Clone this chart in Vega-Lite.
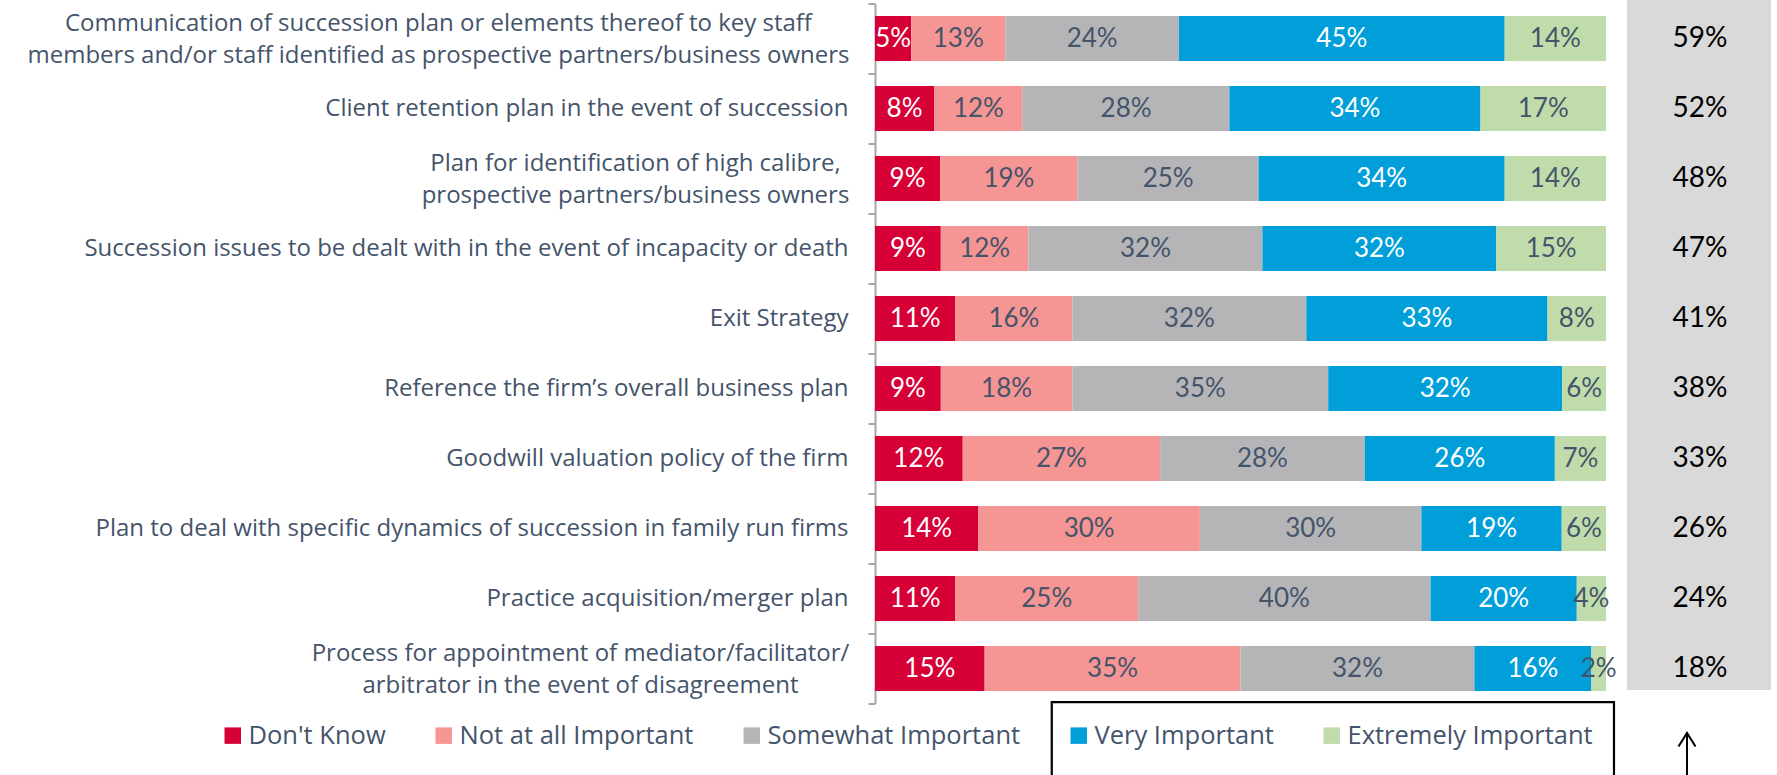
{
  "$schema": "https://vega.github.io/schema/vega-lite/v6.json",
  "autosize": "none",
  "width": 902,
  "height": 700,
  "padding": {"left": 875, "top": 3.5, "right": 0, "bottom": 71.5},
  "background": "white",
  "config": {"view": {"stroke": null}, "font": "Lato", "text": {"font": "Lato"}},
  "datasets": {
    "main": [
      {"item": "Communication of succession plan or elements thereof to key staff\nmembers and/or staff identified as prospective partners/business owners", "level": "Don't Know", "share": 0.05},
      {"item": "Communication of succession plan or elements thereof to key staff\nmembers and/or staff identified as prospective partners/business owners", "level": "Not at all Important", "share": 0.13},
      {"item": "Communication of succession plan or elements thereof to key staff\nmembers and/or staff identified as prospective partners/business owners", "level": "Somewhat Important", "share": 0.24},
      {"item": "Communication of succession plan or elements thereof to key staff\nmembers and/or staff identified as prospective partners/business owners", "level": "Very Important", "share": 0.45},
      {"item": "Communication of succession plan or elements thereof to key staff\nmembers and/or staff identified as prospective partners/business owners", "level": "Extremely Important", "share": 0.14},
      {"item": "Client retention plan in the event of succession", "level": "Don't Know", "share": 0.08},
      {"item": "Client retention plan in the event of succession", "level": "Not at all Important", "share": 0.12},
      {"item": "Client retention plan in the event of succession", "level": "Somewhat Important", "share": 0.28},
      {"item": "Client retention plan in the event of succession", "level": "Very Important", "share": 0.34},
      {"item": "Client retention plan in the event of succession", "level": "Extremely Important", "share": 0.17},
      {"item": "Plan for identification of high calibre,\nprospective partners/business owners", "level": "Don't Know", "share": 0.09},
      {"item": "Plan for identification of high calibre,\nprospective partners/business owners", "level": "Not at all Important", "share": 0.19},
      {"item": "Plan for identification of high calibre,\nprospective partners/business owners", "level": "Somewhat Important", "share": 0.25},
      {"item": "Plan for identification of high calibre,\nprospective partners/business owners", "level": "Very Important", "share": 0.34},
      {"item": "Plan for identification of high calibre,\nprospective partners/business owners", "level": "Extremely Important", "share": 0.14},
      {"item": "Succession issues to be dealt with in the event of incapacity or death", "level": "Don't Know", "share": 0.09},
      {"item": "Succession issues to be dealt with in the event of incapacity or death", "level": "Not at all Important", "share": 0.12},
      {"item": "Succession issues to be dealt with in the event of incapacity or death", "level": "Somewhat Important", "share": 0.32},
      {"item": "Succession issues to be dealt with in the event of incapacity or death", "level": "Very Important", "share": 0.32},
      {"item": "Succession issues to be dealt with in the event of incapacity or death", "level": "Extremely Important", "share": 0.15},
      {"item": "Exit Strategy", "level": "Don't Know", "share": 0.11},
      {"item": "Exit Strategy", "level": "Not at all Important", "share": 0.16},
      {"item": "Exit Strategy", "level": "Somewhat Important", "share": 0.32},
      {"item": "Exit Strategy", "level": "Very Important", "share": 0.33},
      {"item": "Exit Strategy", "level": "Extremely Important", "share": 0.08},
      {"item": "Reference the firm’s overall business plan", "level": "Don't Know", "share": 0.09},
      {"item": "Reference the firm’s overall business plan", "level": "Not at all Important", "share": 0.18},
      {"item": "Reference the firm’s overall business plan", "level": "Somewhat Important", "share": 0.35},
      {"item": "Reference the firm’s overall business plan", "level": "Very Important", "share": 0.32},
      {"item": "Reference the firm’s overall business plan", "level": "Extremely Important", "share": 0.06},
      {"item": "Goodwill valuation policy of the firm", "level": "Don't Know", "share": 0.12},
      {"item": "Goodwill valuation policy of the firm", "level": "Not at all Important", "share": 0.27},
      {"item": "Goodwill valuation policy of the firm", "level": "Somewhat Important", "share": 0.28},
      {"item": "Goodwill valuation policy of the firm", "level": "Very Important", "share": 0.26},
      {"item": "Goodwill valuation policy of the firm", "level": "Extremely Important", "share": 0.07},
      {"item": "Plan to deal with specific dynamics of succession in family run firms", "level": "Don't Know", "share": 0.14},
      {"item": "Plan to deal with specific dynamics of succession in family run firms", "level": "Not at all Important", "share": 0.30},
      {"item": "Plan to deal with specific dynamics of succession in family run firms", "level": "Somewhat Important", "share": 0.30},
      {"item": "Plan to deal with specific dynamics of succession in family run firms", "level": "Very Important", "share": 0.19},
      {"item": "Plan to deal with specific dynamics of succession in family run firms", "level": "Extremely Important", "share": 0.06},
      {"item": "Practice acquisition/merger plan", "level": "Don't Know", "share": 0.11},
      {"item": "Practice acquisition/merger plan", "level": "Not at all Important", "share": 0.25},
      {"item": "Practice acquisition/merger plan", "level": "Somewhat Important", "share": 0.40},
      {"item": "Practice acquisition/merger plan", "level": "Very Important", "share": 0.20},
      {"item": "Practice acquisition/merger plan", "level": "Extremely Important", "share": 0.04},
      {"item": "Process for appointment of mediator/facilitator/\narbitrator in the event of disagreement", "level": "Don't Know", "share": 0.15},
      {"item": "Process for appointment of mediator/facilitator/\narbitrator in the event of disagreement", "level": "Not at all Important", "share": 0.35},
      {"item": "Process for appointment of mediator/facilitator/\narbitrator in the event of disagreement", "level": "Somewhat Important", "share": 0.32},
      {"item": "Process for appointment of mediator/facilitator/\narbitrator in the event of disagreement", "level": "Very Important", "share": 0.16},
      {"item": "Process for appointment of mediator/facilitator/\narbitrator in the event of disagreement", "level": "Extremely Important", "share": 0.02}
    ],
    "net": [
      {"item": "Communication of succession plan or elements thereof to key staff\nmembers and/or staff identified as prospective partners/business owners", "net": 0.59},
      {"item": "Client retention plan in the event of succession", "net": 0.52},
      {"item": "Plan for identification of high calibre,\nprospective partners/business owners", "net": 0.48},
      {"item": "Succession issues to be dealt with in the event of incapacity or death", "net": 0.47},
      {"item": "Exit Strategy", "net": 0.41},
      {"item": "Reference the firm’s overall business plan", "net": 0.38},
      {"item": "Goodwill valuation policy of the firm", "net": 0.33},
      {"item": "Plan to deal with specific dynamics of succession in family run firms", "net": 0.26},
      {"item": "Practice acquisition/merger plan", "net": 0.24},
      {"item": "Process for appointment of mediator/facilitator/\narbitrator in the event of disagreement", "net": 0.18}
    ]
  },
  "resolve": {"scale": {"y": "independent"}},
  "layer": [
    {
      "data": {"values": [{}]},
      "layer": [
        {
          "mark": {"type": "rect", "fill": "#D9D9D9"},
          "encoding": {
            "x": {"datum": 1.0287, "type": "quantitative", "scale": {"domain": [0, 1.2339], "nice": false, "zero": false}, "axis": null},
            "x2": {"datum": 1.2257},
            "y": {"datum": 1.93, "type": "quantitative", "scale": {"domain": [0, 100], "nice": false, "zero": false}, "axis": null},
            "y2": {"datum": 100.6}
          }
        },
        {
          "mark": {"type": "rect", "fill": null, "stroke": "black", "strokeWidth": 2.2},
          "encoding": {
            "x": {"datum": 0.2418, "type": "quantitative", "axis": null},
            "x2": {"datum": 1.0109},
            "y": {"datum": 0.2, "type": "quantitative", "axis": null},
            "y2": {"datum": -12}
          }
        },
        {
          "mark": {"type": "rule", "stroke": "black", "strokeWidth": 2},
          "encoding": {
            "x": {"datum": 1.1108, "type": "quantitative", "axis": null},
            "y": {"datum": -4.3, "type": "quantitative", "axis": null},
            "y2": {"datum": -12}
          }
        },
        {
          "mark": {"type": "point", "shape": "M-1,1.6L0,0L1,1.6", "size": 289, "filled": false, "stroke": "black", "strokeWidth": 2, "opacity": 1},
          "encoding": {
            "x": {"datum": 1.1108, "type": "quantitative", "axis": null},
            "y": {"datum": -4.2, "type": "quantitative", "axis": null}
          }
        }
      ]
    },
    {
      "layer": [
        {
          "data": {"name": "main"},
          "transform": [
            {"stack": "share", "groupby": ["item"], "as": ["x0", "x1"], "offset": "normalize"}
          ],
          "mark": {"type": "bar"},
          "encoding": {
            "y": {
              "field": "item", "type": "nominal", "sort": null,
              "scale": {"type": "band", "paddingInner": 0.357, "paddingOuter": 0.1785},
              "axis": {
                "title": null, "orient": "left", "domain": false, "ticks": false, "tickSize": 0,
                "labelFontSize": 24, "labelFont": "Open Sans", "labelColor": "#44546A",
                "labelLineHeight": 32, "labelLimit": 0, "labelBaseline": "middle",
                "labelExpr": "split(datum.label, '\\n')",
                "labelAlign": {"condition": {"test": "indexof(datum.value, '\\n') >= 0", "value": "center"}, "value": "right"},
                "labelOffset": {"condition": {"test": "indexof(datum.value, '\\n') >= 0", "value": -15}, "value": 0},
                "labelPadding": {
                  "condition": [
                    {"test": "indexof(datum.value, 'Communication') == 0", "value": 437},
                    {"test": "indexof(datum.value, 'Plan for identification') == 0", "value": 240},
                    {"test": "indexof(datum.value, 'Process for') == 0", "value": 295}
                  ],
                  "value": 27
                }
              }
            },
            "x": {"field": "x0", "type": "quantitative", "axis": null},
            "x2": {"field": "x1"},
            "color": {
              "field": "level", "type": "nominal",
              "scale": {
                "domain": ["Don't Know", "Not at all Important", "Somewhat Important", "Very Important", "Extremely Important"],
                "range": ["#D60036", "#F59594", "#B5B5B7", "#009FDA", "#C0DCAA"]
              },
              "legend": {
                "orient": "none", "legendX": -655, "legendY": 719, "direction": "horizontal",
                "title": null, "symbolType": "square", "symbolSize": 272, "symbolStrokeWidth": 0,
                "labelFontSize": 25.5, "labelFont": "Open Sans", "labelColor": "#44546A",
                "columnPadding": 45, "labelOffset": 3, "padding": 0, "labelLimit": 0
              }
            }
          }
        },
        {
          "data": {"name": "main"},
          "transform": [
            {"stack": "share", "groupby": ["item"], "as": ["x0", "x1"], "offset": "normalize"},
            {"calculate": "(datum.x0 + datum.x1) / 2", "as": "xm"}
          ],
          "mark": {"type": "text", "fontSize": 26, "baseline": "middle", "align": "center"},
          "encoding": {
            "y": {"field": "item", "type": "nominal", "sort": null},
            "x": {"field": "xm", "type": "quantitative", "axis": null},
            "text": {"field": "share", "type": "quantitative", "format": ".0%"},
            "color": {
              "condition": {"test": "datum.level == \"Don't Know\" || datum.level == 'Very Important'", "value": "white"},
              "value": "#44546A"
            }
          }
        },
        {
          "data": {"name": "net"},
          "mark": {"type": "text", "fontSize": 28, "baseline": "middle", "align": "center", "color": "black"},
          "encoding": {
            "y": {"field": "item", "type": "nominal", "sort": null},
            "x": {"datum": 1.1286, "type": "quantitative", "axis": null},
            "text": {"field": "net", "type": "quantitative", "format": ".0%"}
          }
        }
      ]
    },
    {
      "data": {"name": "net"},
      "mark": {"type": "text", "text": ""},
      "encoding": {
        "y": {
          "field": "item", "type": "nominal", "sort": null,
          "scale": {"type": "band", "paddingInner": 0, "paddingOuter": 0},
          "axis": {
            "title": null, "orient": "left", "labels": false, "grid": false,
            "domain": true, "domainColor": "#A6A6A6", "domainWidth": 2,
            "ticks": true, "tickColor": "#A6A6A6", "tickWidth": 2, "tickSize": 7,
            "bandPosition": 1, "tickExtra": true
          }
        },
        "x": {"datum": 0, "type": "quantitative", "axis": null}
      }
    }
  ]
}
